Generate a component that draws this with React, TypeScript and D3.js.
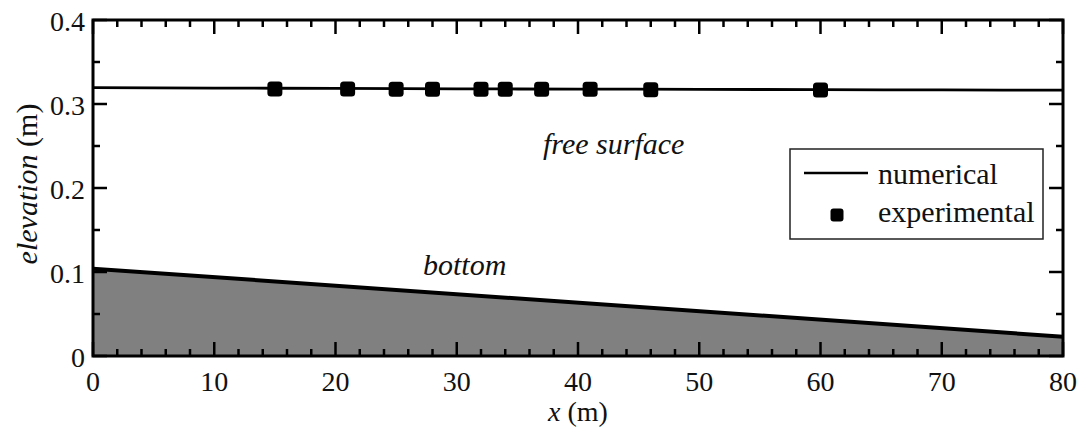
import React from 'react';
import * as d3 from 'd3';

// free surface (numerical) and bottom profile
const surfaceX = [0, 10, 20, 30, 40, 50, 60, 70, 80];
const surfaceY = [0.3195, 0.319, 0.3185, 0.318, 0.3178, 0.3175, 0.317, 0.3167, 0.3165];
const bottomX = [0, 80];
const bottomY = [0.104, 0.023];
// experimental gauges
const gaugeX = [15, 21, 25, 28, 32, 34, 37, 41, 46, 60];
const gaugeY = [0.318, 0.318, 0.3175, 0.3175, 0.3175, 0.3175, 0.3175, 0.3175, 0.317, 0.3168];
const xTicks = [0, 10, 20, 30, 40, 50, 60, 70, 80];
const yTicks = [0, 0.1, 0.2, 0.3, 0.4];

function App() {
  const width = 1085;
  const height = 436;
  const left = 93, right = 1063, top = 20, bottom = 356;

  const x = d3.scaleLinear().domain([0, 80]).range([left, right]);
  const y = d3.scaleLinear().domain([0, 0.4]).range([bottom, top]);

  const surfaceLine = d3.line<number>()
    .x((d, i) => x(surfaceX[i]))
    .y(d => y(d))
    .curve(d3.curveMonotoneX);

  const bottomArea = d3.area<number>()
    .x((d, i) => x(bottomX[i]))
    .y0(y(0))
    .y1(d => y(d));
  const bottomLine = d3.line<number>()
    .x((d, i) => x(bottomX[i]))
    .y(d => y(d));

  const xMinor = d3.range(0, 81, 2).filter(v => v % 10 !== 0);
  const yMinor = [0.05, 0.15, 0.25, 0.35];
  const major = 14, minor = 7;
  const font = "'Liberation Serif', 'Times New Roman', Times, 'DejaVu Serif', serif";
  const ms = 15;
  const tickFs = 28, textFs = 30;

  return (
    <svg width={width} height={height}
      style={{ position: 'absolute', left: 0, top: 0, background: '#fff', fontFamily: font }}>
      <path d={bottomArea(bottomY) ?? ''} fill="#808080" />
      <path d={bottomLine(bottomY) ?? ''} fill="none" stroke="#000" strokeWidth={4} />
      <path d={surfaceLine(surfaceY) ?? ''} fill="none" stroke="#000" strokeWidth={2.8} />
      {gaugeX.map((gx, i) => (
        <rect key={i} x={x(gx) - ms / 2} y={y(gaugeY[i]) - ms / 2} width={ms} height={ms}
          rx={3.5} fill="#000" />
      ))}

      {/* ticks, pointing inward on all four sides */}
      <g stroke="#000" strokeWidth={2.5}>
        {xTicks.map(t => (
          <g key={'xt' + t}>
            <line x1={x(t)} x2={x(t)} y1={bottom} y2={bottom - major} />
            <line x1={x(t)} x2={x(t)} y1={top} y2={top + major} />
          </g>
        ))}
        {xMinor.map(t => (
          <g key={'xm' + t}>
            <line x1={x(t)} x2={x(t)} y1={bottom} y2={bottom - minor} />
            <line x1={x(t)} x2={x(t)} y1={top} y2={top + minor} />
          </g>
        ))}
        {yTicks.map(t => (
          <g key={'yt' + t}>
            <line x1={left} x2={left + major} y1={y(t)} y2={y(t)} />
            <line x1={right} x2={right - major} y1={y(t)} y2={y(t)} />
          </g>
        ))}
        {yMinor.map(t => (
          <g key={'ym' + t}>
            <line x1={left} x2={left + minor} y1={y(t)} y2={y(t)} />
            <line x1={right} x2={right - minor} y1={y(t)} y2={y(t)} />
          </g>
        ))}
      </g>
      <rect x={left} y={top} width={right - left} height={bottom - top} fill="none" stroke="#000" strokeWidth={3} />

      {/* tick labels */}
      <g fontSize={tickFs} fill="#111">
        {xTicks.map(t => (
          <text key={'xl' + t} x={x(t)} y={391} textAnchor="middle">{t}</text>
        ))}
        {yTicks.map(t => (
          <text key={'yl' + t} x={85} y={y(t) + 11} textAnchor="end">{t === 0 ? '0' : t.toFixed(1)}</text>
        ))}
      </g>

      {/* axis titles */}
      <text x={(left + right) / 2} y={421} fontSize={textFs - 2} textAnchor="middle" fill="#111">
        <tspan fontStyle="italic">x</tspan> (m)
      </text>
      <text transform={`translate(37,${(top + bottom) / 2 - 4}) rotate(-90)`} fontSize={textFs} textAnchor="middle" fill="#111">
        <tspan fontStyle="italic">elevation</tspan> (m)
      </text>

      {/* annotations */}
      <text x={543} y={154} fontSize={textFs} fontStyle="italic" fill="#111">free surface</text>
      <text x={423} y={275} fontSize={textFs} fontStyle="italic" fill="#111">bottom</text>

      {/* legend */}
      <rect x={790} y={149} width={253} height={90} fill="#fff" stroke="#222" strokeWidth={1.5} />
      <line x1={804} x2={868} y1={173} y2={173} stroke="#000" strokeWidth={2.5} />
      <text x={878} y={184} fontSize={textFs} fill="#111">numerical</text>
      <rect x={837 - 6.5} y={215 - 6.5} width={13} height={13} rx={3} fill="#000" />
      <text x={878} y={222} fontSize={textFs} fill="#111">experimental</text>
    </svg>
  );
}

export default App;
